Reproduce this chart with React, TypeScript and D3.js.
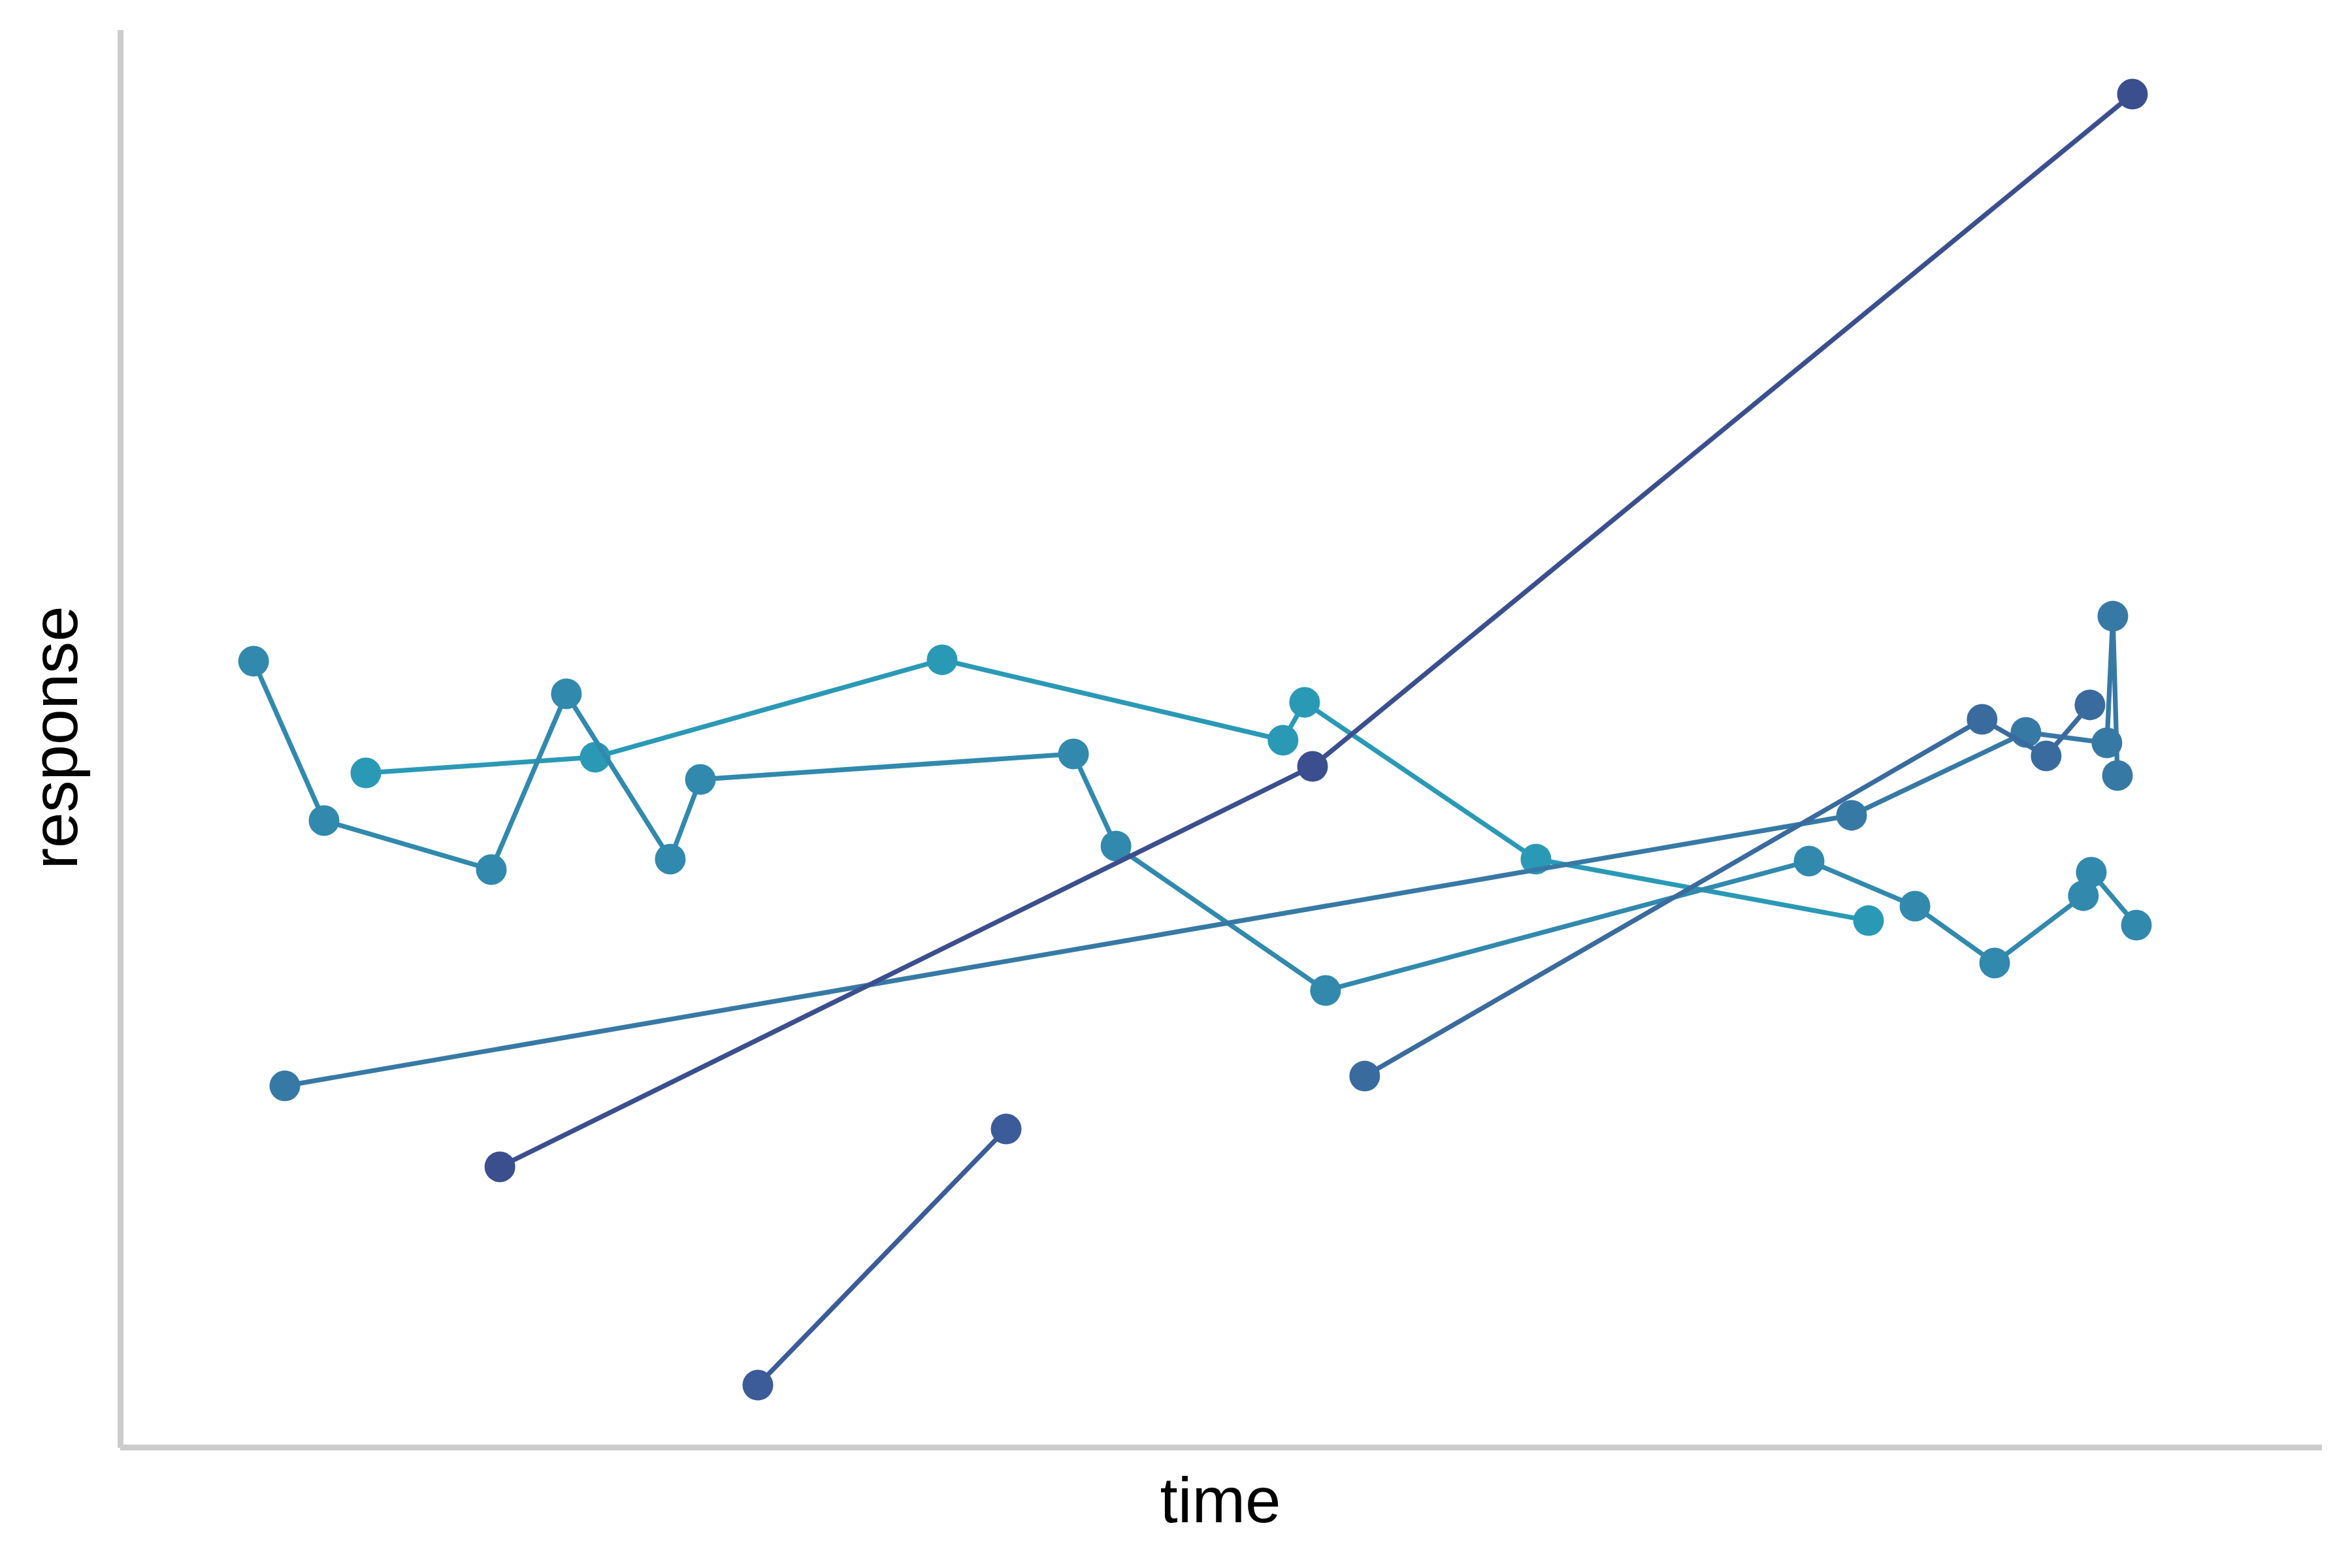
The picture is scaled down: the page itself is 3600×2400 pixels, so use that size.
import React from "react";
import * as d3 from "d3";

// time / response values for each subject (arbitrary units)
const seriesNames = ["C", "L", "M", "D", "N2", "N1"];
const seriesColors = ["#2a99b6", "#3189ad", "#3779a5", "#3a6b9e", "#3b5c98", "#3b4f8f"];

const timeC = [11.13, 21.55, 37.31, 52.8, 53.78, 64.29, 79.4];
const respC = [47.59, 48.7, 55.57, 49.9, 52.57, 41.51, 37.17];

const timeL = [6.03, 9.23, 16.83, 20.24, 24.96, 26.33, 43.28, 45.21, 54.73, 76.7, 81.51, 85.13, 89.16, 89.52, 91.57];
const respL = [55.47, 44.23, 40.77, 53.17, 41.51, 47.13, 48.93, 42.43, 32.24, 41.37, 38.19, 34.18, 38.93, 40.59, 36.85];

const timeM = [7.45, 78.63, 86.55, 90.23, 90.5, 90.71];
const respM = [25.51, 44.6, 50.45, 49.71, 58.65, 47.41];

const timeD = [56.51, 84.56, 87.47, 89.46];
const respD = [26.2, 51.37, 48.79, 52.39];

const timeN2 = [28.94, 40.22];
const respN2 = [4.4, 22.47];

const timeN1 = [17.22, 54.14, 91.39];
const respN1 = [19.8, 48.05, 95.48];

const allTimes = [timeC, timeL, timeM, timeD, timeN2, timeN1];
const allResp = [respC, respL, respM, respD, respN2, respN1];

const W = 3600;
const H = 2400;

export default function App() {
  React.useEffect(() => {
    document.body.style.margin = "0";
  }, []);

  const x = d3.scaleLinear().domain([0, 100]).range([185, 3554]);
  const y = d3.scaleLinear().domain([0, 100]).range([2215.5, 46]);

  const series = seriesNames.map((name, i) => ({
    name,
    color: seriesColors[i],
    pts: allTimes[i].map((t, j) => ({ t, v: allResp[i][j] })),
  }));

  const line = d3
    .line<{ t: number; v: number }>()
    .x((d) => x(d.t))
    .y((d) => y(d.v));

  const [x0, x1] = x.range();
  const [y0, y1] = y.range();
  const font = "'Liberation Sans', Arial, Helvetica, sans-serif";

  return (
    <svg
      width={W}
      height={H}
      viewBox={`0 0 ${W} ${H}`}
      style={{ position: "absolute", left: 0, top: 0, display: "block", background: "#ffffff" }}
    >
      <rect x={0} y={0} width={W} height={H} fill="#ffffff" />
      {/* axes spines */}
      <line x1={x0 - 0.5} x2={x0 - 0.5} y1={y1} y2={y0 + 0.5} stroke="#cccccc" strokeWidth={9} />
      <line x1={x0 - 1} x2={x1} y1={y0} y2={y0} stroke="#cccccc" strokeWidth={9} />
      {series.map((s) => (
        <g key={s.name}>
          <path
            d={line(s.pts) || ""}
            fill="none"
            stroke={s.color}
            strokeWidth={7.3}
            strokeLinejoin="round"
            strokeLinecap="round"
          />
          {s.pts.map((p, j) => (
            <circle key={j} cx={x(p.t)} cy={y(p.v)} r={23.5} fill={s.color} />
          ))}
        </g>
      ))}
      <text
        x={1868}
        y={2330}
        textAnchor="middle"
        fontFamily={font}
        fontSize={98}
        fill="#000000"
      >
        time
      </text>
      <text
        transform={`translate(117.5,1129) rotate(-90)`}
        textAnchor="middle"
        fontFamily={font}
        fontSize={98}
        fill="#000000"
      >
        response
      </text>
    </svg>
  );
}
